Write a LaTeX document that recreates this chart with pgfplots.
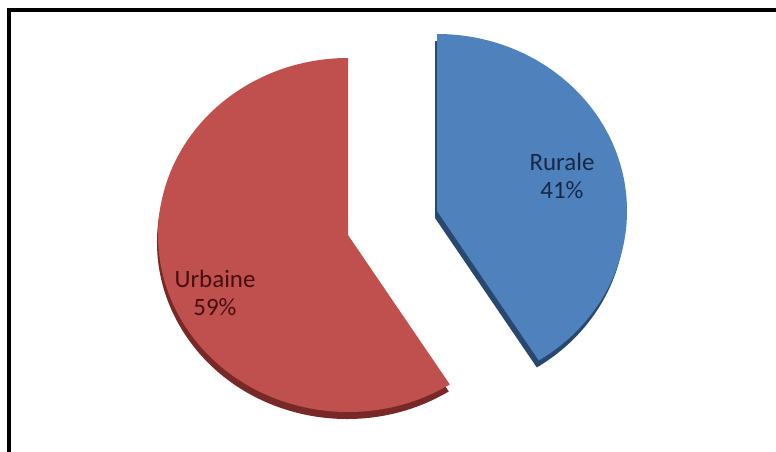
\documentclass[border=0pt]{standalone}
\usepackage{pgfplots}
\pgfplotsset{compat=1.18}
\usepackage{pgfplotstable}
\usepackage{fontspec}
\setmainfont{Carlito}
\definecolor{ruralface}{RGB}{79,129,189}
\definecolor{ruralside}{RGB}{40,72,112}
\definecolor{urbface}{RGB}{192,80,77}
\definecolor{urbside}{RGB}{120,40,38}
\definecolor{ruraltext}{RGB}{22,40,70}
\definecolor{urbtext}{RGB}{70,14,14}
\pgfplotstableread{
label value
Rurale 41
Urbaine 59
}\piedata
\begin{document}
\begin{tikzpicture}
\pgfplotstablegetelem{0}{value}\of\piedata \let\vR\pgfplotsretval
\pgfplotstablegetelem{1}{value}\of\piedata \let\vU\pgfplotsretval
\pgfmathsetmacro{\aEnd}{90-3.6*\vR}
\pgfmathsetmacro{\uEnd}{\aEnd-3.6*\vU}
\begin{axis}[
  scale only axis, width=776bp, height=452bp,
  xmin=0, xmax=776, ymin=0, ymax=452, y dir=reverse,
  hide axis, clip=false]
\path (axis cs:0,0) rectangle (axis cs:776,452);
% frame
\fill[black] (axis cs:7,8) rectangle (axis cs:776,12);
\fill[black] (axis cs:7,8) rectangle (axis cs:11,452);
% Rurale side (depth)
\fill[ruralside] (axis cs:435,218) -- ++(90:190bp and 177bp)
  arc[start angle=90, end angle=\aEnd, x radius=190bp, y radius=177bp] -- cycle;
% Urbaine side (depth)
\fill[urbside] (axis cs:347,242) -- ++(\aEnd:190bp and 177bp)
  arc[start angle=\aEnd, end angle=\uEnd, x radius=190bp, y radius=177bp] -- cycle;
% faces
\fill[ruralface] (axis cs:437,211) -- ++(90:190bp and 177bp)
  arc[start angle=90, end angle=\aEnd, x radius=190bp, y radius=177bp] -- cycle;
\fill[urbface] (axis cs:348,235) -- ++(\aEnd:190bp and 177bp)
  arc[start angle=\aEnd, end angle=\uEnd, x radius=190bp, y radius=177bp] -- cycle;
% labels
\node[align=center, text=ruraltext, font=\fontsize{25}{29}\selectfont] at (axis cs:562,176) {Rurale\\\vR\%};
\node[align=center, text=urbtext, font=\fontsize{25}{29}\selectfont] at (axis cs:215,293) {Urbaine\\\vU\%};
\end{axis}
\end{tikzpicture}
\end{document}
